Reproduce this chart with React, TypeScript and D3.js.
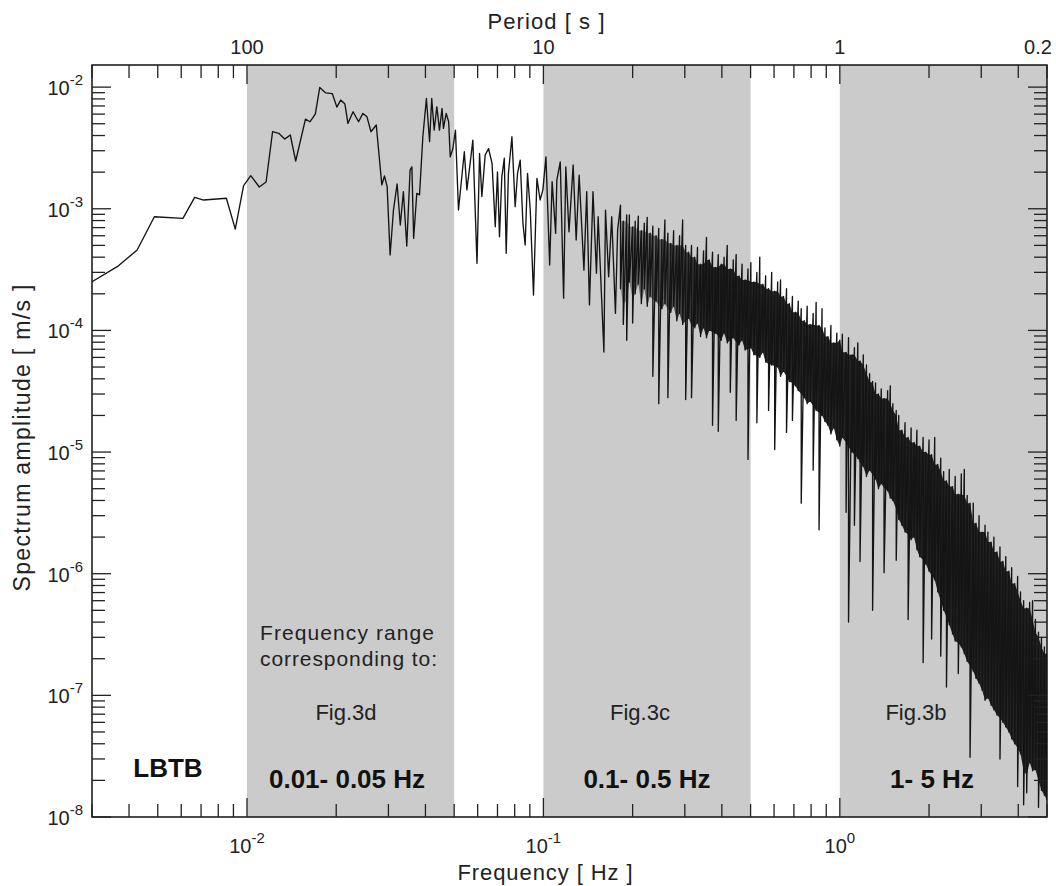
import React from 'react';
import * as d3 from 'd3';

// ---------- data ----------
// sparse low-frequency part of the spectrum: [frequency Hz, amplitude m/s]
const lowSpectrum: [number, number][] = [
  [0.003, 2.51e-4], [0.00365, 3.34e-4], [0.00426, 4.58e-4], [0.00487, 8.6e-4], [0.00608, 8.34e-4],
  [0.00666, 1.24e-3], [0.00714, 1.18e-3], [0.00852, 1.22e-3], [0.00913, 6.8e-4], [0.00974, 1.55e-3],
  [0.0103, 1.87e-3], [0.011, 1.51e-3], [0.0116, 1.66e-3], [0.0122, 4.3e-3], [0.0128, 4.17e-3],
  [0.0134, 3.74e-3], [0.014, 4.04e-3], [0.0146, 2.47e-3], [0.01575, 5.46e-3], [0.0163, 5.19e-3],
  [0.017, 6.0e-3], [0.0176, 9.95e-3], [0.0184, 8.98e-3], [0.0194, 8.85e-3], [0.0201, 6.85e-3],
  [0.0207, 7.82e-3], [0.0214, 7.25e-3], [0.0219, 5.03e-3], [0.0228, 6.27e-3], [0.0238, 5.19e-3],
  [0.0246, 6.08e-3], [0.0254, 5.7e-3], [0.0262, 4.3e-3], [0.0273, 4.88e-3], [0.0285, 1.57e-3],
  [0.0291, 1.86e-3], [0.0297, 1.52e-3], [0.0304, 4.17e-4], [0.0312, 9.76e-4], [0.0321, 1.6e-3],
  [0.0329, 7.35e-4], [0.0337, 1.38e-3], [0.0346, 4.94e-4], [0.0355, 2.08e-3], [0.036, 2.21e-3],
  [0.0365, 5.71e-4], [0.0374, 1.34e-3], [0.0382, 1.3e-3], [0.0392, 3.91e-3], [0.0403, 8.07e-3],
  [0.0413, 3.56e-3], [0.042, 8.07e-3], [0.0428, 4.43e-3], [0.0437, 6.89e-3], [0.0446, 4.43e-3],
  [0.0455, 6.68e-3], [0.046, 4.58e-3], [0.047, 6.08e-3], [0.0479, 5.19e-3], [0.0485, 2.67e-3],
  [0.0495, 3.13e-3], [0.0505, 4.43e-3], [0.0517, 9.76e-4], [0.0541, 2.94e-3], [0.0552, 1.43e-3],
  [0.0566, 2.36e-3], [0.0578, 3.67e-3], [0.0597, 3.56e-4], [0.0609, 2.85e-3], [0.062, 1.26e-3],
  [0.0636, 2.76e-3], [0.0653, 3.13e-3], [0.0671, 2.36e-3], [0.0688, 7.11e-4], [0.07, 2.01e-3],
  [0.0711, 5.89e-4], [0.0724, 1.83e-3], [0.0738, 2.6e-3], [0.0749, 4.3e-4], [0.0762, 1.95e-3],
  [0.0783, 3.91e-3], [0.0803, 1.04e-3], [0.0818, 1.95e-3], [0.0835, 2.51e-3], [0.0853, 7.59e-4],
  [0.0868, 5.04e-4], [0.0884, 1.95e-3], [0.0903, 9.76e-4], [0.0926, 1.95e-4], [0.0951, 1.78e-3],
  [0.0975, 1.18e-3], [0.0996, 1.43e-3], [0.102, 2.67e-3], [0.105, 3.45e-4], [0.107, 1.67e-3],
  [0.11, 6.28e-4], [0.111, 1.72e-3], [0.114, 2.43e-3], [0.117, 1.84e-4], [0.119, 2.21e-3],
  [0.122, 6.47e-4], [0.126, 2.29e-3], [0.129, 5.53e-4], [0.132, 1.89e-3], [0.137, 3.13e-4],
  [0.14, 1.38e-3], [0.143, 1.62e-4], [0.147, 1.38e-3], [0.151, 2.95e-4], [0.153, 8.6e-4],
  [0.16, 6.65e-5], [0.162, 9.76e-4], [0.166, 2.76e-4], [0.17, 8.6e-4], [0.175, 1.38e-4],
  [0.178, 6.68e-4],
];

// dense high-frequency part:
// [frequency Hz, local peak m/s, lower edge of the dense black core m/s, deepest trough m/s]
const denseSpectrum: [number, number, number, number][] = [
  [0.182, 1.07e-3, 2.2e-4, 2.2e-4], [0.186, 7.9e-4, 1.6e-4, 1.12e-4], [0.191, 8.9e-4, 1.8e-4, 8.3e-5],
  [0.195, 8.9e-4, 2.5e-4, 2.5e-4], [0.2, 7.1e-4, 1.8e-4, 1.15e-4], [0.204, 7.9e-4, 2.0e-4, 2.0e-4],
  [0.209, 8.7e-4, 2.4e-4, 2.4e-4], [0.214, 6.6e-4, 1.66e-4, 1.66e-4], [0.219, 7.6e-4, 2.2e-4, 2.2e-4],
  [0.224, 8.5e-4, 1.58e-4, 1.58e-4], [0.229, 6.3e-4, 1.9e-4, 1.9e-4], [0.234, 7.2e-4, 1.8e-4, 4.2e-5],
  [0.24, 6.0e-4, 1.74e-4, 1.74e-4], [0.245, 6.9e-4, 1.6e-4, 2.5e-5], [0.251, 5.6e-4, 1.51e-4, 1.51e-4],
  [0.257, 8.1e-4, 1.66e-4, 1.66e-4], [0.263, 6.3e-4, 1.5e-4, 2.8e-5], [0.269, 5.2e-4, 1.41e-4, 1.41e-4],
  [0.275, 6.6e-4, 1.58e-4, 1.58e-4], [0.282, 5.0e-4, 1.2e-4, 1.2e-4], [0.288, 6.0e-4, 1.38e-4, 1.38e-4],
  [0.295, 8.1e-4, 1.12e-4, 1.12e-4], [0.302, 5.0e-4, 1.2e-4, 2.7e-5], [0.309, 4.4e-4, 1.26e-4, 1.26e-4],
  [0.316, 5.0e-4, 1.1e-4, 2.8e-5], [0.324, 4.0e-4, 1.05e-4, 1.05e-4], [0.331, 4.8e-4, 1.15e-4, 1.15e-4],
  [0.339, 3.5e-4, 8.9e-5, 8.9e-5], [0.347, 4.5e-4, 1.05e-4, 1.05e-4], [0.355, 5.8e-4, 8.7e-5, 8.7e-5],
  [0.363, 3.8e-4, 1.0e-4, 1.0e-4], [0.372, 4.4e-4, 9.7e-5, 1.66e-5], [0.38, 3.3e-4, 9.5e-5, 9.5e-5],
  [0.389, 4.2e-4, 9.0e-5, 1.48e-5], [0.398, 3.5e-4, 8.3e-5, 8.3e-5], [0.407, 4.0e-4, 9.5e-5, 9.5e-5],
  [0.417, 5.0e-4, 7.9e-5, 7.9e-5], [0.427, 3.2e-4, 8.3e-5, 3.1e-5], [0.437, 3.8e-4, 8.7e-5, 8.7e-5],
  [0.447, 4.2e-4, 8.0e-5, 1.82e-5], [0.457, 2.8e-4, 7.6e-5, 7.6e-5], [0.468, 3.5e-4, 8.3e-5, 8.3e-5],
  [0.479, 2.6e-4, 6.9e-5, 6.9e-5], [0.49, 3.2e-4, 7.0e-5, 8.7e-6], [0.501, 3.6e-4, 7.2e-5, 7.2e-5],
  [0.513, 2.5e-4, 6.3e-5, 6.3e-5], [0.525, 3.0e-4, 6.2e-5, 1.74e-5], [0.537, 4.0e-4, 6.0e-5, 6.0e-5],
  [0.55, 2.4e-4, 6.6e-5, 6.6e-5], [0.562, 2.8e-4, 5.5e-5, 5.5e-5], [0.575, 2.2e-4, 5.3e-5, 2.2e-5],
  [0.589, 3.0e-4, 5.2e-5, 5.2e-5], [0.603, 2.1e-4, 5.1e-5, 1.05e-5], [0.617, 2.5e-4, 5.0e-5, 5.0e-5],
  [0.631, 2.6e-4, 4.2e-5, 4.2e-5], [0.646, 1.9e-4, 4.6e-5, 4.6e-5], [0.661, 2.2e-4, 4.2e-5, 1.45e-5],
  [0.676, 1.66e-4, 3.8e-5, 3.8e-5], [0.692, 1.9e-4, 3.7e-5, 1.82e-5], [0.708, 1.41e-4, 3.5e-5, 3.5e-5],
  [0.724, 1.74e-4, 3.2e-5, 3.2e-5], [0.741, 1.51e-4, 3.0e-5, 3.8e-6], [0.759, 1.2e-4, 2.8e-5, 2.8e-5],
  [0.776, 1.58e-4, 2.5e-5, 2.5e-5], [0.794, 1.12e-4, 2.6e-5, 2.6e-5], [0.813, 1.38e-4, 2.4e-5, 7.1e-6],
  [0.832, 1.7e-4, 2.2e-5, 2.2e-5], [0.851, 1.1e-4, 2.1e-5, 2.3e-6], [0.871, 1.51e-4, 2.0e-5, 2.0e-5],
  [0.891, 1.05e-4, 1.78e-5, 1.78e-5], [0.912, 8.9e-5, 1.66e-5, 1.66e-5], [0.933, 1.1e-4, 1.41e-5, 1.41e-5],
  [0.955, 7.9e-5, 1.58e-5, 1.58e-5], [0.977, 9.5e-5, 1.26e-5, 1.26e-5], [1.0, 8.3e-5, 1.12e-5, 1.12e-5],
  [1.02, 9.3e-5, 1.32e-5, 1.32e-5], [1.05, 6.6e-5, 1.2e-5, 3.2e-6], [1.07, 8.7e-5, 1.1e-5, 4.0e-7],
  [1.1, 6.3e-5, 1.0e-5, 1.0e-5], [1.12, 7.2e-5, 9.5e-6, 2.5e-6], [1.15, 7.9e-5, 8.9e-6, 8.9e-6],
  [1.17, 5.6e-5, 8.2e-6, 1.26e-6], [1.2, 6.3e-5, 7.6e-6, 7.6e-6], [1.23, 5.2e-5, 6.3e-6, 6.3e-6],
  [1.26, 4.4e-5, 7.1e-6, 7.1e-6], [1.29, 3.8e-5, 6.5e-6, 5.0e-7], [1.32, 3.7e-5, 6.0e-6, 6.0e-6],
  [1.35, 3.0e-5, 5.0e-6, 5.0e-6], [1.38, 3.3e-5, 5.5e-6, 5.5e-6], [1.41, 2.75e-5, 5.1e-6, 1.02e-6],
  [1.45, 3.2e-5, 4.8e-6, 4.8e-6], [1.48, 3.5e-5, 4.2e-6, 4.2e-6], [1.51, 2.5e-5, 4.0e-6, 4.0e-6],
  [1.55, 2.2e-5, 3.4e-6, 1.29e-6], [1.58, 2.0e-5, 2.8e-6, 2.8e-6], [1.62, 1.51e-5, 2.5e-6, 2.5e-6],
  [1.66, 1.74e-5, 2.2e-6, 2.2e-6], [1.7, 1.32e-5, 2.1e-6, 4.2e-7], [1.74, 1.58e-5, 1.9e-6, 1.9e-6],
  [1.78, 1.2e-5, 2.0e-6, 2.0e-6], [1.82, 1.51e-5, 1.58e-6, 1.58e-6], [1.86, 1.12e-5, 1.38e-6, 1.38e-6],
  [1.91, 1.32e-5, 1.3e-6, 1.86e-7], [1.95, 1.0e-5, 1.2e-6, 1.2e-6], [2.0, 1.26e-5, 1.05e-6, 1.05e-6],
  [2.04, 9.5e-6, 9.7e-7, 2.9e-7], [2.09, 1.32e-5, 8.9e-7, 8.9e-7], [2.14, 7.9e-6, 7.1e-7, 7.1e-7],
  [2.19, 8.9e-6, 6.0e-7, 2.1e-7], [2.24, 6.9e-6, 5.0e-7, 5.0e-7], [2.29, 5.8e-6, 4.4e-7, 1.17e-7],
  [2.34, 7.2e-6, 3.8e-7, 3.8e-7], [2.4, 5.2e-6, 3.2e-7, 3.2e-7], [2.45, 6.3e-6, 2.8e-7, 2.8e-7],
  [2.51, 4.5e-6, 2.7e-7, 1.51e-7], [2.57, 6.6e-6, 2.5e-7, 2.5e-7], [2.63, 7.2e-6, 2.2e-7, 2.2e-7],
  [2.69, 4.4e-6, 1.9e-7, 1.9e-7], [2.75, 3.8e-6, 1.75e-7, 3.1e-8], [2.82, 3.8e-6, 1.58e-7, 1.58e-7],
  [2.88, 2.6e-6, 1.38e-7, 1.38e-7], [2.95, 3.0e-6, 1.26e-7, 1.26e-7], [3.02, 2.2e-6, 1.1e-7, 1.1e-7],
  [3.09, 2.5e-6, 9.1e-8, 9.1e-8], [3.16, 2.2e-6, 9.5e-8, 9.5e-8], [3.24, 1.82e-6, 8.3e-8, 8.3e-8],
  [3.31, 2.0e-6, 7.6e-8, 7.6e-8], [3.39, 1.51e-6, 6.9e-8, 6.9e-8], [3.47, 1.66e-6, 6.5e-8, 3.0e-8],
  [3.55, 1.26e-6, 6.0e-8, 6.0e-8], [3.63, 1.38e-6, 5.5e-8, 5.5e-8], [3.72, 1.05e-6, 5.0e-8, 5.0e-8],
  [3.8, 1.12e-6, 4.4e-8, 4.4e-8], [3.89, 8.3e-7, 4.0e-8, 4.0e-8], [3.98, 9.5e-7, 3.7e-8, 1.78e-8],
  [4.07, 7.1e-7, 3.3e-8, 3.3e-8], [4.17, 6.0e-7, 2.4e-8, 1.26e-8], [4.27, 5.2e-7, 2.2e-8, 1.58e-8],
  [4.37, 5.8e-7, 2.8e-8, 2.8e-8], [4.47, 6.0e-7, 2.4e-8, 2.4e-8], [4.57, 4.2e-7, 2.45e-8, 2.45e-8],
  [4.68, 3.3e-7, 2.0e-8, 1.2e-8], [4.79, 3.0e-7, 1.66e-8, 1.66e-8], [4.9, 2.5e-7, 1.51e-8, 1.51e-8],
  [5.0, 2.2e-7, 1.38e-8, 1.38e-8],
];

// shaded frequency ranges [from, to] Hz
const bandRanges: [number, number][] = [[0.01, 0.05], [0.1, 0.5], [1, 5]];
const bandFigLabels = ['Fig.3d', 'Fig.3c', 'Fig.3b'];
const bandRangeLabels = ['0.01- 0.05 Hz', '0.1- 0.5 Hz', '1- 5 Hz'];

// axis ticks
const xMajorExponents = [-2, -1, 0];
const yMajorExponents = [-8, -7, -6, -5, -4, -3, -2];
const periodLabels = [
  { freq: 0.01, label: '100' },
  { freq: 0.1, label: '10' },
  { freq: 1, label: '1' },
  { freq: 5, label: '0.2' },
];

// ---------- layout ----------
const W = 1056;
const H = 886;
const M = { left: 92, right: 1047, top: 65, bottom: 817 };
const FONT = '"Liberation Sans", Arial, Helvetica, sans-serif';
const BAND_FILL = '#cbcbcb';
const INK = '#141414';

export default function App() {
  const x = d3.scaleLog().domain([0.003, 5]).range([M.left, M.right]);
  const y = d3.scaleLog().domain([1e-8, 0.0152]).range([M.bottom, M.top]);

  // one continuous trace: sparse part, then peak/trough zig-zag of the dense part
  const pts: [number, number][] = [...lowSpectrum];
  denseSpectrum.forEach(([f, hi, , lo]) => {
    pts.push([f, hi]);
    pts.push([f, lo]);
  });
  const line = d3
    .line<[number, number]>()
    .x((d) => x(d[0]))
    .y((d) => y(d[1]));

  // dense black core: from the core's lower edge up to the lower of the neighbouring peaks,
  // so the higher peaks stick out as single spikes of the trace
  const coreTop = denseSpectrum.map((d, i) =>
    d3.min(denseSpectrum.slice(Math.max(0, i - 1), i + 2), (e) => e[1]) as number
  );
  const core = d3
    .area<number>()
    .x((i) => x(denseSpectrum[i][0]))
    .y0((i) => y(denseSpectrum[i][2]))
    .y1((i) => y(coreTop[i]));

  const isMajor = (v: number) => Math.abs(Math.log10(v) - Math.round(Math.log10(v))) < 1e-6;
  const xTicks = x.ticks().filter((v) => v >= 0.003 && v <= 5.0001);
  const yTicks = y.ticks().filter((v) => v >= 1e-8 && v <= 0.0152);

  const majLen = 19;
  const minLen = 13;

  return (
    <svg
      width={W}
      height={H}
      style={{ position: 'absolute', left: 0, top: 0, background: '#fff' }}
      fontFamily={FONT}
    >
      <defs>
        <clipPath id="plotClip">
          <rect x={M.left} y={M.top} width={M.right - M.left} height={M.bottom - M.top} />
        </clipPath>
        <linearGradient id="coreFade" gradientUnits="userSpaceOnUse" x1={x(0.182)} x2={x(0.36)} y1={0} y2={0}>
          <stop offset="0" stopColor={INK} stopOpacity={0.35} />
          <stop offset="1" stopColor={INK} stopOpacity={0.92} />
        </linearGradient>
      </defs>

      {/* shaded bands */}
      {bandRanges.map(([a, b], i) => (
        <rect
          key={'band' + i}
          x={x(a)}
          y={M.top}
          width={x(b) - x(a)}
          height={M.bottom - M.top}
          fill={BAND_FILL}
        />
      ))}

      <g clipPath="url(#plotClip)">
        <path d={core(d3.range(denseSpectrum.length)) || ''} fill="url(#coreFade)" stroke="none" />
        <path
          d={line(pts) || ''}
          fill="none"
          stroke={INK}
          strokeWidth={1.35}
          strokeLinejoin="round"
        />
      </g>

      {/* frame */}
      <rect
        x={M.left}
        y={M.top}
        width={M.right - M.left}
        height={M.bottom - M.top}
        fill="none"
        stroke="#111"
        strokeWidth={1.5}
      />

      {/* x ticks bottom & top */}
      {xTicks.map((v, i) => {
        const len = isMajor(v) ? majLen : minLen;
        const px = x(v);
        return (
          <g key={'xt' + i} stroke="#222" strokeWidth={1.3}>
            <line x1={px} x2={px} y1={M.bottom} y2={M.bottom - len} />
            <line x1={px} x2={px} y1={M.top} y2={M.top + len} />
          </g>
        );
      })}

      {/* y ticks left & right */}
      {yTicks.map((v, i) => {
        const len = isMajor(v) ? majLen : minLen;
        const py = y(v);
        return (
          <g key={'yt' + i} stroke="#222" strokeWidth={1.3}>
            <line x1={M.left} x2={M.left + len} y1={py} y2={py} />
            <line x1={M.right} x2={M.right - len} y1={py} y2={py} />
          </g>
        );
      })}

      {/* bottom tick labels */}
      {xMajorExponents.map((e) => (
        <text key={'xl' + e} x={x(Math.pow(10, e))} y={853} textAnchor="middle" fontSize={20} fill="#222">
          <tspan>10</tspan>
          <tspan dy={-10} fontSize={15}>{String(e)}</tspan>
        </text>
      ))}

      {/* left tick labels */}
      {yMajorExponents.map((e) => (
        <text key={'yl' + e} x={83} y={y(Math.pow(10, e)) + 8} textAnchor="end" fontSize={20} fill="#222">
          <tspan>10</tspan>
          <tspan dy={-10} fontSize={15}>{String(e)}</tspan>
        </text>
      ))}

      {/* top period labels */}
      {periodLabels.map((p, i) => (
        <text
          key={'pl' + i}
          x={p.freq >= 5 ? 1038 : x(p.freq)}
          y={54}
          textAnchor="middle"
          fontSize={20}
          fill="#222"
        >
          {p.label}
        </text>
      ))}

      {/* axis titles */}
      <text x={546} y={29} textAnchor="middle" fontSize={22} fill="#222" textLength={117} lengthAdjust="spacing">
        Period  [ s ]
      </text>
      <text x={545} y={880} textAnchor="middle" fontSize={22} fill="#222" textLength={175} lengthAdjust="spacing">
        Frequency  [ Hz ]
      </text>
      <text
        transform="translate(30,438) rotate(-90)"
        textAnchor="middle"
        fontSize={23}
        fill="#222"
        textLength={307}
        lengthAdjust="spacing"
      >
        Spectrum amplitude  [ m/s ]
      </text>

      {/* annotations */}
      <text x={260} y={640} fontSize={21} fill="#222" textLength={174} lengthAdjust="spacing">
        Frequency range
      </text>
      <text x={260} y={666} fontSize={21} fill="#222" textLength={177} lengthAdjust="spacing">
        corresponding to:
      </text>
      {[346, 640, 916].map((cx, i) => (
        <text key={'fig' + i} x={cx} y={720} textAnchor="middle" fontSize={22} fill="#222">
          {bandFigLabels[i]}
        </text>
      ))}
      {[347, 647, 932].map((cx, i) => (
        <text key={'rng' + i} x={cx} y={788} textAnchor="middle" fontSize={26} fontWeight="bold" fill="#111">
          {bandRangeLabels[i]}
        </text>
      ))}
      <text x={168} y={777} textAnchor="middle" fontSize={26} fontWeight="bold" fill="#111">
        LBTB
      </text>
    </svg>
  );
}
